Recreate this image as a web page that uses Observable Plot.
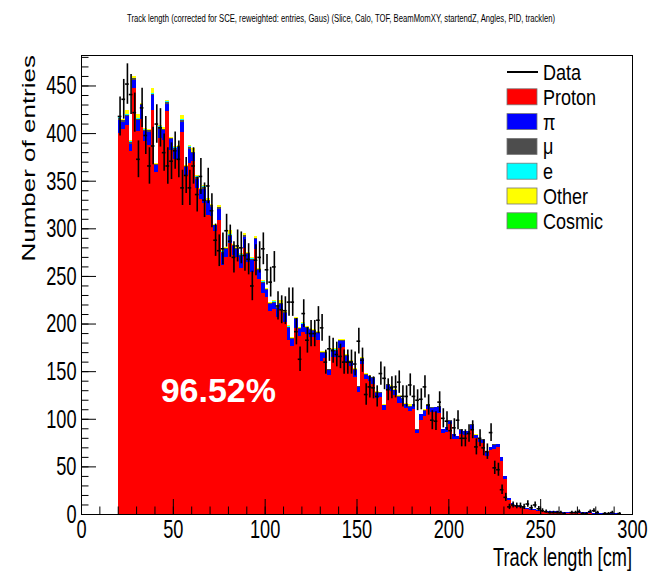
<!DOCTYPE html>
<html>
<head>
<meta charset="utf-8">
<script src="https://cdn.jsdelivr.net/npm/d3@7"></script>
<script src="https://cdn.jsdelivr.net/npm/@observablehq/plot@0.6"></script>
<style>
  body { margin: 0; background: #fff; }
  #chart svg { display: block; }
</style>
</head>
<body>
<div id="chart"></div>
<script>
// Track-length histogram, 2 cm bins starting at 20 cm
const binStart = 20, binWidth = 2;

const titleText = "Track length (corrected for SCE, reweighted: entries, Gaus) (Slice, Calo, TOF, BeamMomXY, startendZ, Angles, PID, tracklen)";
const xTitle = "Track length [cm]";
const yTitle = "Number of entries";
const purityLabel = ["96.52%"];

const components = ["Proton", "π", "μ", "e", "Other", "Cosmic"];
const componentColors = ["#ff0000", "#0000ff", "#4d4d4d", "#00ffff", "#ffff00", "#00ff00"];
const legendLabels = ["Data", "Proton", "π", "μ", "e", "Other", "Cosmic"];

const xMajorTicks = [0, 50, 100, 150, 200, 250, 300];
const xMinorTicks = [0, 10, 20, 30, 40, 50, 60, 70, 80, 90, 100, 110, 120, 130, 140, 150, 160, 170, 180, 190, 200, 210, 220, 230, 240, 250, 260, 270, 280, 290, 300];
const yMajorTicks = [0, 50, 100, 150, 200, 250, 300, 350, 400, 450];
const yMinorTicks = [0, 10, 20, 30, 40, 50, 60, 70, 80, 90, 100, 110, 120, 130, 140, 150, 160, 170, 180, 190, 200, 210, 220, 230, 240, 250, 260, 270, 280, 290, 300, 310, 320, 330, 340, 350, 360, 370, 380, 390, 400, 410, 420, 430, 440, 450, 460, 470, 480];

// Simulated contributions per bin
const proton = [
  400, 404, 408, 381, 447, 402, 415, 392, 388, 424,
  359, 395, 393, 423, 382, 373, 372, 401, 356, 369,
  371, 342, 331, 327, 314, 313, 297, 309, 262, 270,
  285, 272, 270, 258, 279, 265, 254, 278, 247, 232,
  228, 213, 215, 207, 215, 202, 183, 176, 195, 187,
  191, 189, 186, 186, 183, 161, 164, 146, 165, 165,
  174, 175, 160, 155, 144, 128, 157, 142, 140, 137,
  122, 123, 109, 130, 129, 125, 117, 117, 111, 108,
  110, 85, 99, 103, 110, 107, 107, 106, 85, 86,
  94, 79, 79, 84, 83, 84, 89, 80, 76, 75,
  61, 67, 68, 70, 56, 37, 15, 11, 8, 7,
  6, 5, 4, 4, 3, 3, 2, 2, 2, 2,
  1, 1, 1, 1, 1, 1, 1, 1, 1, 0.5,
  0.5, 0.5, 0.5, 0.5, 0.5, 0.5, 0.5
];
const pion = [
  14, 8, 10, 8, 9, 12, 14, 10, 13, 16,
  8, 9, 10, 8, 12, 9, 13, 11, 8, 14,
  8, 10, 9, 14, 15, 9, 6, 11, 12, 8,
  7, 9, 8, 13, 12, 8, 13, 11, 9, 11,
  7, 8, 7, 9, 6, 9, 12, 8, 10, 7,
  8, 6, 7, 6, 7, 8, 5, 5, 7, 6,
  8, 7, 6, 5, 7, 5, 6, 4, 5, 6,
  5, 4, 5, 5, 4, 5, 6, 4, 5, 4,
  5, 3, 6, 5, 4, 4, 5, 6, 4, 5,
  4, 5, 3, 4, 4, 3, 4, 3, 4, 3,
  4, 3, 4, 4, 4, 3, 2, 1, 1, 1,
  1, 1, 1, 1, 1, 1, 1, 1, 1, 1,
  1, 1, 1, 1, 1, 1, 1, 1, 1, 0.5,
  0.5, 0.5, 0.5, 0.5, 0.5, 0.5, 0.5
];
const muon = [
  2, 2, 1, 2, 2, 1, 2, 1, 2, 1,
  1, 2, 1, 2, 1, 2, 1, 2, 1, 2,
  1, 2, 1, 2, 1, 2, 1, 2, 1, 1,
  1, 2, 1, 1, 2, 1, 1, 1, 1, 1,
  1, 1, 1, 1, 1, 1, 1, 1, 1, 1,
  1, 1, 1, 1, 1, 1, 1, 1, 1, 1,
  1, 1, 1, 1, 1, 1, 1, 1, 0, 1,
  1, 1, 0, 1, 1, 0, 1, 1, 0, 1,
  0, 1, 0, 1, 0, 1, 0, 1, 0, 0,
  1, 0, 0, 1, 0, 0, 1, 0, 0, 1,
  0, 0, 1, 0, 0, 0, 0, 0, 0, 0,
  0, 0, 0, 0, 0, 0, 0, 0, 0, 0,
  0, 0, 0, 0, 0, 0, 0, 0, 0, 0,
  0, 0, 0, 0, 0, 0, 0
];
const electron = [
  1, 0, 1, 1, 0, 1, 0, 1, 0, 1,
  0, 1, 0, 1, 0, 1, 0, 1, 0, 1,
  0, 1, 0, 1, 0, 1, 0, 0, 1, 0,
  1, 0, 0, 1, 0, 0, 1, 0, 0, 1,
  0, 0, 1, 0, 0, 0, 1, 0, 0, 0,
  1, 0, 0, 0, 0, 0, 0, 0, 0, 1,
  0, 0, 0, 0, 0, 0, 0, 0, 0, 0,
  0, 0, 0, 0, 0, 0, 0, 0, 0, 0,
  0, 0, 0, 0, 0, 0, 0, 0, 0, 0,
  0, 0, 0, 0, 0, 0, 0, 0, 0, 0,
  0, 0, 0, 0, 0, 0, 0, 0, 0, 0,
  0, 0, 0, 0, 0, 0, 0, 0, 0, 0,
  0, 0, 0, 0, 0, 0, 0, 0, 0, 0,
  0, 0, 0, 0, 0, 0, 0
];
const other = [
  1, 1, 4, 1, 2, 4, 1, 1, 1, 5,
  1, 1, 2, 1, 1, 1, 2, 4, 1, 1,
  4, 1, 1, 1, 2, 1, 1, 2, 1, 1,
  4, 1, 1, 1, 2, 1, 1, 2, 1, 1,
  1, 1, 1, 1, 3, 1, 1, 1, 1, 1,
  1, 1, 1, 1, 1, 1, 1, 0, 1, 1,
  1, 1, 1, 1, 1, 0, 1, 1, 1, 0,
  1, 0, 1, 0, 1, 1, 1, 0, 1, 2,
  0, 0, 0, 1, 1, 0, 0, 0, 0, 0,
  0, 0, 0, 0, 0, 0, 0, 1, 0, 0,
  0, 0, 0, 0, 0, 0, 0, 0, 0, 0,
  0, 0, 0, 0, 0, 0, 0, 0, 0, 0,
  0, 0, 0, 0, 0, 0, 0, 0, 0, 0,
  0, 0, 0, 0, 0, 0, 0
];
const cosmic = [
  0, 0, 0, 0, 0, 0, 0, 0, 0, 0,
  0, 0, 0, 0, 0, 0, 0, 0, 0, 0,
  0, 0, 0, 0, 0, 0, 0, 0, 0, 0,
  0, 0, 0, 0, 0, 0, 0, 0, 0, 0,
  0, 0, 0, 0, 0, 0, 0, 0, 0, 0,
  0, 0, 0, 0, 0, 0, 0, 0, 0, 0,
  0, 0, 0, 0, 0, 0, 0, 0, 0, 0,
  0, 0, 0, 0, 0, 0, 0, 0, 0, 0,
  0, 0, 0, 0, 0, 0, 0, 0, 0, 0,
  0, 0, 0, 0, 0, 0, 0, 0, 0, 0,
  0, 0, 0, 0, 0, 0, 0, 0, 0, 0,
  0, 0, 0, 0, 0, 0, 0, 0, 0, 0,
  0, 0, 0, 0, 0, 0, 0, 0, 0, 0,
  0, 0, 0, 0, 0, 0, 0
];
// Measured counts per bin
const dataCounts = [
  418, 436, 452, 441, 422, 373, 427, 398, 366, 387,
  410, 406, 380, 366, 371, 382, 373, 343, 356, 343,
  366, 336, 355, 330, 345, 319, 288, 277, 279, 298,
  287, 270, 282, 280, 272, 268, 240, 267, 270, 279,
  257, 244, 260, 219, 215, 214, 223, 223, 192, 163,
  211, 183, 190, 190, 204, 196, 160, 174, 172, 168,
  166, 160, 160, 160, 158, 182, 162, 126, 134, 133,
  124, 148, 143, 131, 133, 134, 139, 124, 124, 136,
  124, 120, 121, 134, 115, 99, 98, 118, 101, 98,
  88, 91, 99, 80, 80, 85, 89, 71, 80, 70,
  66, 86, 49, 47, 26, 18, 8, 10, 9, 9,
  8, 11, 7, 10, 6, 4, 3, 2, 2, 2,
  2, 1, 0, 2, 2, 3, 1, 1, 3, 4,
  2, 0, 1, 1, 2, 0, 1
];

// Long-form table for the stacked histogram
const series = [proton, pion, muon, electron, other, cosmic];
const stackRows = [];
proton.forEach((_, i) => {
  const x1 = binStart + i * binWidth, x2 = x1 + binWidth;
  series.forEach((s, k) => stackRows.push({x1, x2, comp: components[k], value: s[i]}));
});
const points = dataCounts.map((v, i) => {
  const x1 = binStart + i * binWidth, x2 = x1 + binWidth;
  const err = Math.sqrt(v);
  return {x1, x2, xc: (x1 + x2) / 2, v, lo: v - err, hi: v + err};
}).filter(d => d.v > 0);

const FONT = "'Liberation Sans', Arial, Helvetica, sans-serif";
const SX = 0.7;   // horizontal squeeze of the Helvetica-style lettering

const plot = Plot.plot({
  width: 650,
  height: 571,
  marginLeft: 81,
  marginRight: 18,
  marginTop: 55,
  marginBottom: 57,
  style: {fontFamily: FONT, background: "#fff", color: "#000", overflow: "visible"},
  x: {domain: [0, 300]},
  y: {domain: [0, 482]},
  color: {domain: components, range: componentColors},
  marks: [
    Plot.rectY(stackRows, {
      x1: "x1", x2: "x2", y: "value", z: "comp", fill: "comp",
      order: components, shapeRendering: "crispEdges"
    }),
    Plot.ruleX(points, {x: "xc", y1: "lo", y2: "hi", stroke: "#000", strokeWidth: 1.6}),
    Plot.ruleY(points, {y: "v", x1: "x1", x2: "x2", stroke: "#000", strokeWidth: 1.6}),
    Plot.text(purityLabel, {
      x: 74.5, y: 130, text: d => d, fill: "#fff", fontSize: 34, fontWeight: "bold",
      textAnchor: "middle", lineAnchor: "middle"
    }),
    Plot.frame({stroke: "#000"}),
    Plot.axisY(yMinorTicks, {tickSize: -7.5, fill: "none", label: null}),
    Plot.axisY(yMajorTicks, {tickSize: -15, fill: "none", label: null}),
    Plot.axisY(yMajorTicks, {tickSize: 0, tickPadding: 5, fontSize: 26, label: null}),
    Plot.axisX(xMinorTicks, {tickSize: -7.5, fill: "none", label: null}),
    Plot.axisX(xMajorTicks, {tickSize: -15, fill: "none", label: null}),
    Plot.axisX(xMajorTicks, {tickSize: 0, tickPadding: 5, fontSize: 26, label: null})
  ]
});

document.getElementById("chart").appendChild(plot);
const svg = d3.select(plot);

// Condense the axis tick labels around their anchor points
svg.selectAll('g[aria-label$="tick label"] text').each(function () {
  const x = +this.getAttribute("x") || 0;
  this.removeAttribute("x");
  const tr = this.getAttribute("transform") || "";
  this.setAttribute("transform", `${tr} translate(${x},0) scale(${SX},1)`);
});

function addText(str, x, y, o = {}) {
  const sx = o.sx || SX;
  const squeeze = o.rotate ? ` rotate(${o.rotate}) scale(1,${sx})` : ` scale(${sx},1)`;
  return svg.append("text")
    .attr("transform", `translate(${x},${y})${squeeze}`)
    .attr("text-anchor", o.anchor || "start")
    .attr("font-family", FONT)
    .attr("font-size", o.size || 26)
    .attr("fill", o.fill || "#000")
    .text(str);
}

// Title and axis titles
addText(titleText, 341, 22, {size: 11, anchor: "middle"});
addText(xTitle, 632, 566, {anchor: "end"});
addText(yTitle, 35, 55, {anchor: "end", rotate: -90});

// Legend
const legend = svg.append("g").attr("aria-label", "legend");
const rowY = k => 72 + 24.8 * k;
legend.append("line")
  .attr("x1", 507).attr("x2", 538).attr("y1", rowY(0)).attr("y2", rowY(0))
  .attr("stroke", "#000").attr("stroke-width", 2);
components.forEach((c, k) => {
  legend.append("rect")
    .attr("x", 507).attr("y", rowY(k + 1) - 8).attr("width", 30).attr("height", 16)
    .attr("fill", componentColors[k]).attr("stroke", "#777").attr("stroke-width", 0.8);
});
legendLabels.forEach((t, k) => addText(t, 543, rowY(k) + 8, {size: 22, sx: 0.82}));
</script>
</body>
</html>
